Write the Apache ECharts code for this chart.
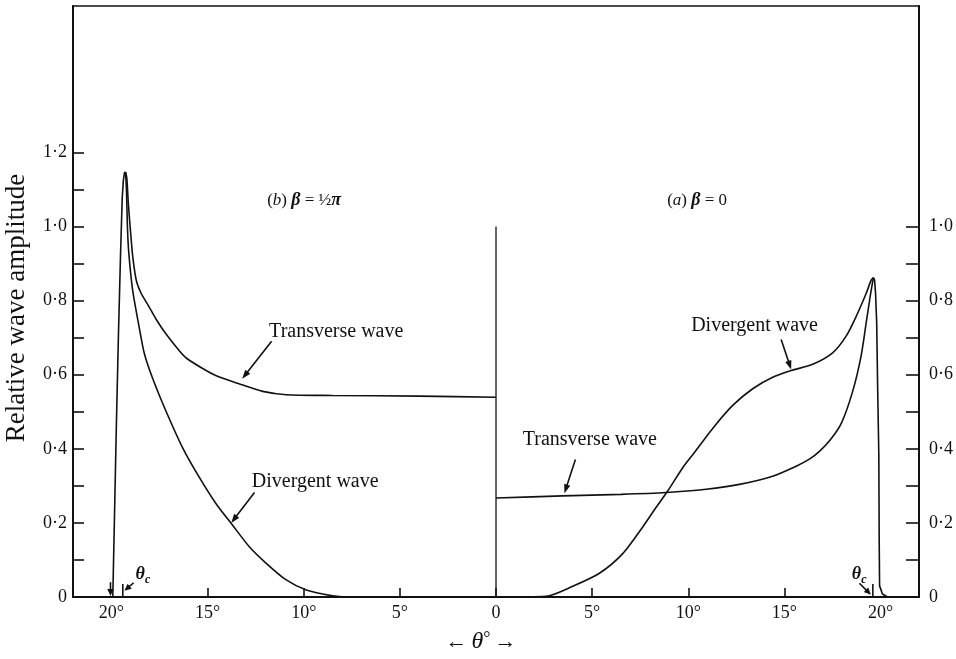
<!DOCTYPE html>
<html><head><meta charset="utf-8">
<script src="https://cdn.jsdelivr.net/npm/echarts@6.0.0/dist/echarts.min.js"></script>
<style>html,body{margin:0;padding:0;background:#fff}#c{width:956px;height:659px}</style>
</head><body><div id="c"></div>
<script>
const FONT = "'Liberation Serif','DejaVu Serif',serif";

// (b) beta = pi/2  — left panel, [theta (deg), amplitude]; drawn towards the left
const bEdge = [[19.93,0],[19.85,0.2],[19.75,0.45],[19.64,0.7],[19.53,0.92],[19.44,1.077],[19.38,1.125],[19.32,1.145],[19.27,1.147]];
const bTransverse = [[19.27,1.147],[19.2,1.13],[19.12,1.06],[18.97,0.962],[18.89,0.917],[18.71,0.855],[18.45,0.819],[18.11,0.789],[17.67,0.749],[17.15,0.709],[16.46,0.664],[16.11,0.645],[15.3,0.618],[14.55,0.597],[13.34,0.575],[12.13,0.555],[10.91,0.546],[8.5,0.544],[3.98,0.542],[0,0.539]];
const bDivergent = [[19.27,1.147],[19.22,1.1],[19.17,1.0],[19.1,0.93],[18.9,0.829],[18.54,0.723],[18.28,0.655],[17.85,0.589],[17.15,0.5],[16.29,0.402],[15.42,0.322],[14.55,0.251],[13.69,0.193],[12.82,0.135],[11.95,0.091],[10.91,0.046],[9.87,0.019],[8.49,0.003],[7.8,0],[0,0]];

// (a) beta = 0 — right panel
const aTransverse = [[0,0.267],[3.47,0.273],[6.5,0.277],[8.85,0.282],[10.93,0.291],[12.66,0.304],[14.39,0.326],[15.61,0.353],[16.3,0.372],[16.82,0.393],[17.4,0.425],[17.97,0.47],[18.55,0.555],[18.99,0.651],[19.25,0.739],[19.46,0.811],[19.57,0.845],[19.63,0.862]];
const aDivergent = [[0,0],[2.6,0.002],[3.99,0.029],[5.38,0.064],[6.59,0.117],[7.63,0.189],[8.33,0.242],[8.93,0.286],[9.71,0.349],[10.23,0.384],[11.27,0.455],[12.31,0.517],[13.35,0.562],[14.39,0.593],[15.35,0.611],[16.47,0.628],[17.51,0.659],[18.21,0.704],[18.73,0.757],[19.25,0.819],[19.51,0.855],[19.63,0.862]];
const aEdge = [[19.63,0.862],[19.69,0.855],[19.74,0.82],[19.8,0.739],[19.85,0.562],[19.91,0.384],[19.93,0.15],[19.95,0.03],[20.1,0.008],[20.36,0]];

const centreLine = [[0,0],[0,1.0]];

// axes
const xTicks = [-15,-10,-5,0,5,10,15];
const xLabels = [-20,-15,-10,-5,0,5,10,15,20];
const yLeftTicks = [0,0.1,0.2,0.3,0.4,0.5,0.6,0.7,0.8,0.9,1.0,1.1,1.2];
const yLeftLabels = [0,0.2,0.4,0.6,0.8,1.0,1.2];
const yRightTicks = [0,0.1,0.2,0.3,0.4,0.5,0.6,0.7,0.8,0.9,1.0];
const yRightLabels = [0,0.2,0.4,0.6,0.8,1.0];
const thetaCLeft = 19.41, thetaCRight = 19.6;

const X_MIN = -22, X_MAX = 22, Y_MAX = 1.595;

const toLeft = arr => arr.map(p => [-p[0], p[1]]);
const yFmt = v => v === 0 ? '0' : v.toFixed(1).replace('.', '\u00b7');
const lineStyle = {color:'#111', width:1.6};
function curve(data, smooth){
  return {type:'line', data, symbol:'none', smooth: smooth ? 0.25 : false, lineStyle, silent:true, animation:false};
}

const chart = echarts.init(document.getElementById('c'), null, {renderer:'canvas'});
chart.setOption({
  backgroundColor:'#fff',
  animation:false,
  grid:{left:73, right:36, top:6, bottom:55, show:true, borderColor:'#111', borderWidth:1.6},
  xAxis:{type:'value', min:X_MIN, max:X_MAX,
    axisLine:{show:true, onZero:false, lineStyle:{color:'#111', width:2}},
    axisTick:{show:true, inside:true, length:9, customValues:xTicks, lineStyle:{color:'#111', width:1.6}},
    axisLabel:{customValues:xLabels, margin:7, color:'#111', fontFamily:FONT, fontSize:18,
      formatter: v => v === 0 ? '0' : Math.abs(v) + '\u00b0'},
    splitLine:{show:false},
    name:'{a|\u2190}{t|\u03b8}{d|\u00b0}{a|\u2192}', nameLocation:'middle', nameGap:33,
    nameTextStyle:{padding:[0,30,0,0], rich:{
      a:{fontFamily:FONT, fontSize:22, color:'#111', padding:[0,4,0,4]},
      t:{fontFamily:FONT, fontSize:24, fontStyle:'italic', color:'#111'},
      d:{fontFamily:FONT, fontSize:18, color:'#111', verticalAlign:'top'}}}
  },
  yAxis:[
    {type:'value', min:0, max:Y_MAX, position:'left',
      axisLine:{show:true, onZero:false, lineStyle:{color:'#111', width:2}},
      axisTick:{show:true, inside:true, length:11, customValues:yLeftTicks, lineStyle:{color:'#111', width:1.6}},
      axisLabel:{customValues:yLeftLabels, margin:6, color:'#111', fontFamily:FONT, fontSize:18, formatter:yFmt},
      splitLine:{show:false}},
    {type:'value', min:0, max:Y_MAX, position:'right',
      axisLine:{show:true, onZero:false, lineStyle:{color:'#111', width:2}},
      axisTick:{show:true, inside:true, length:13, customValues:yRightTicks, lineStyle:{color:'#111', width:1.6}},
      axisLabel:{customValues:yRightLabels, margin:10, color:'#111', fontFamily:FONT, fontSize:18, formatter:yFmt},
      splitLine:{show:false}}
  ],
  series:[
    curve(toLeft(bEdge), false),
    curve(toLeft(bTransverse), true),
    curve(toLeft(bDivergent), true),
    curve(aTransverse, true),
    curve(aDivergent, true),
    curve(aEdge, false),
    {type:'line', data:centreLine, symbol:'none', lineStyle:{color:'#111', width:1.3}, silent:true, animation:false},
    {type:'line', data:[[-thetaCLeft,0],[-thetaCLeft,0.035]], symbol:'none', lineStyle:{color:'#111', width:1.6}, silent:true, animation:false},
    {type:'line', data:[[thetaCRight,0],[thetaCRight,0.035]], symbol:'none', lineStyle:{color:'#111', width:1.6}, silent:true, animation:false}
  ]
});

// annotations placed in data coordinates
const P = (x, y) => chart.convertToPixel({gridIndex:0}, [x, y]);
const g = [];
function arrow(x0, y0, x1, y1, head){
  const a = P(x0, y0), b = P(x1, y1);
  const dx = b[0]-a[0], dy = b[1]-a[1], L = Math.hypot(dx, dy) || 1;
  const ux = dx/L, uy = dy/L, h = head || 9, w = 3.2;
  g.push({type:'line', shape:{x1:a[0], y1:a[1], x2:b[0]-ux*h*0.6, y2:b[1]-uy*h*0.6}, style:{stroke:'#111', lineWidth:1.6}, silent:true});
  g.push({type:'polygon', shape:{points:[[b[0],b[1]],[b[0]-ux*h-uy*w, b[1]-uy*h+ux*w],[b[0]-ux*h+uy*w, b[1]-uy*h-ux*w]]}, style:{fill:'#111'}, silent:true});
}
function text(x, y, str, opts){
  const p = P(x, y);
  const o = opts || {};
  g.push({type:'text', x:p[0], y:p[1], silent:true, rotation:o.rotation||0, style:Object.assign({
    text:str, fill:'#111', fontFamily:FONT, fontSize:20,
    align:o.align||'left', verticalAlign:'middle', textAlign:o.align||'left', textVerticalAlign:'middle'
  }, o.style||{})});
}

// y-axis title, beside the axis
const yt = P(X_MIN, 0.78);
g.push({type:'text', x:yt[0]-56, y:yt[1], rotation:Math.PI/2, silent:true, style:{
  text:'Relative wave amplitude', fill:'#111', fontFamily:FONT, fontSize:27,
  align:'center', verticalAlign:'middle', textAlign:'center', textVerticalAlign:'middle'}});

// panel titles
text(-11.9, 1.07, '({i|b}) {bi|\u03b2} = \u00bd{bi|\u03c0}', {style:{fontSize:17, rich:{
  i:{fontFamily:FONT, fontSize:17, fontStyle:'italic', fill:'#111'},
  bi:{fontFamily:FONT, fontSize:18, fontStyle:'italic', fontWeight:'bold', fill:'#111'}}}});
text(8.9, 1.07, '({i|a}) {bi|\u03b2} = 0', {style:{fontSize:17, rich:{
  i:{fontFamily:FONT, fontSize:17, fontStyle:'italic', fill:'#111'},
  bi:{fontFamily:FONT, fontSize:18, fontStyle:'italic', fontWeight:'bold', fill:'#111'}}}});

// curve labels with arrows
text(-11.8, 0.717, 'Transverse wave');
arrow(-11.67, 0.69, -13.2, 0.589);
text(-12.7, 0.31, 'Divergent wave');
arrow(-12.56, 0.282, -13.77, 0.2);
text(10.15, 0.731, 'Divergent wave');
arrow(14.83, 0.695, 15.35, 0.614);
text(1.39, 0.424, 'Transverse wave');
arrow(4.13, 0.371, 3.56, 0.28);

// theta_c markers
text(-18.75, 0.06, '\u03b8', {style:{fontSize:18, fontStyle:'italic', fontWeight:'bold'}});
text(-18.25, 0.045, 'c', {style:{fontSize:12, fontStyle:'italic', fontWeight:'bold'}});
arrow(-18.85, 0.038, -19.33, 0.017, 7);
arrow(-20.05, 0.04, -20.05, 0.003, 7);
text(18.5, 0.062, '\u03b8', {style:{fontSize:18, fontStyle:'italic', fontWeight:'bold'}});
text(19.0, 0.047, 'c', {style:{fontSize:12, fontStyle:'italic', fontWeight:'bold'}});
arrow(18.9, 0.037, 19.5, 0.006, 7);

chart.setOption({graphic:{elements:g}});
</script>
</body></html>
